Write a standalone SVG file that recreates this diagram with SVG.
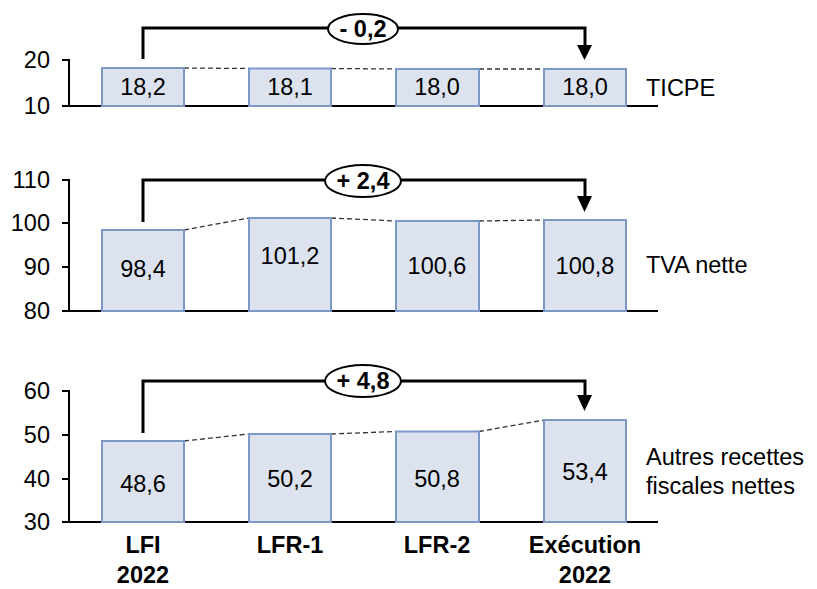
<svg xmlns="http://www.w3.org/2000/svg" width="817" height="589" viewBox="0 0 817 589">
<defs>
<style>
text{font-family:"Liberation Sans",Arial,sans-serif;font-size:23.5px;fill:#000}
.tl{text-anchor:end}
.c{text-anchor:middle}
.b{font-weight:bold}
.bar{fill:#dce3ee;stroke:#7b98c6;stroke-width:2}
.ax{stroke:#000;stroke-width:2;fill:none}
.dash{stroke:#333;stroke-width:1.3;stroke-dasharray:5,3;fill:none}
.br{stroke:#000;stroke-width:3;fill:none}
.ell{fill:#fff;stroke:#000;stroke-width:2}
</style>
</defs>

<g id="axes">
<path class="ax" d="M62,60 H69 V106 M62,106 H658"/>
<text class="tl" x="50" y="68">20</text>
<text class="tl" x="50" y="114">10</text>
<path class="ax" d="M62,180 H69 V311 M62,223 H69 M62,267 H69 M62,311 H658"/>
<text class="tl" x="50" y="188">110</text>
<text class="tl" x="50" y="231">100</text>
<text class="tl" x="50" y="275">90</text>
<text class="tl" x="50" y="319">80</text>
<path class="ax" d="M62,391 H69 V522 M62,435 H69 M62,479 H69 M62,522 H658"/>
<text class="tl" x="50" y="399">60</text>
<text class="tl" x="50" y="443">50</text>
<text class="tl" x="50" y="487">40</text>
<text class="tl" x="50" y="530">30</text>
</g>

<g id="connectors">
<path class="dash" d="M184,68 L249,68.5 M331,68.5 L396,69 M479,69 L544,69"/>
<path class="dash" d="M184,230 L249,218 M331,218 L396,221 M479,221 L544,220"/>
<path class="dash" d="M184,441 L249,434 M331,434 L396,431.5 M479,431.5 L544,420"/>
<path class="br" d="M143,59 V28 H585 V46"/>
<path d="M577,45 H592 L584.5,60 Z" fill="#000"/>
<path class="br" d="M143,222 V180 H585 V197"/>
<path d="M577,196 H592 L584.5,212 Z" fill="#000"/>
<path class="br" d="M143,433 V381 H585 V396"/>
<path d="M577,395 H592 L584.5,411 Z" fill="#000"/>
</g>

<g id="ticpe">
<rect class="bar" x="102" y="68" width="82" height="38"/>
<rect class="bar" x="249" y="68.5" width="82" height="37.5"/>
<rect class="bar" x="396" y="69" width="83" height="37"/>
<rect class="bar" x="544" y="69" width="82" height="37"/>
<text class="c" x="143" y="95">18,2</text>
<text class="c" x="290" y="95">18,1</text>
<text class="c" x="437" y="95">18,0</text>
<text class="c" x="585" y="95">18,0</text>
<text x="646" y="96">TICPE</text>
<g id="delta-ticpe"><ellipse class="ell" cx="363" cy="29" rx="35" ry="15"/><text class="c b" x="363" y="37">- 0,2</text></g>
</g>

<g id="tva">
<rect class="bar" x="102" y="230" width="82" height="81"/>
<rect class="bar" x="249" y="218" width="82" height="93"/>
<rect class="bar" x="396" y="221" width="83" height="90"/>
<rect class="bar" x="544" y="220" width="82" height="91"/>
<text class="c" x="143" y="277">98,4</text>
<text class="c" x="290" y="264">101,2</text>
<text class="c" x="437" y="274">100,6</text>
<text class="c" x="585" y="274">100,8</text>
<text x="646" y="273">TVA nette</text>
<g id="delta-tva"><ellipse class="ell" cx="363" cy="181" rx="38" ry="16"/><text class="c b" x="363" y="189">+ 2,4</text></g>
</g>

<g id="autres">
<rect class="bar" x="102" y="441" width="82" height="81"/>
<rect class="bar" x="249" y="434" width="82" height="88"/>
<rect class="bar" x="396" y="431.5" width="83" height="90.5"/>
<rect class="bar" x="544" y="420" width="82" height="102"/>
<text class="c" x="143" y="492">48,6</text>
<text class="c" x="290" y="487">50,2</text>
<text class="c" x="437" y="487">50,8</text>
<text class="c" x="585" y="480">53,4</text>
<text x="646" y="465">Autres recettes</text>
<text x="646" y="494">fiscales nettes</text>
<g id="delta-autres"><ellipse class="ell" cx="363" cy="381" rx="38" ry="16"/><text class="c b" x="363" y="389">+ 4,8</text></g>
</g>

<g id="categories">
<text class="c b" x="143" y="553">LFI</text>
<text class="c b" x="143" y="583">2022</text>
<text class="c b" x="290" y="553">LFR-1</text>
<text class="c b" x="437" y="553">LFR-2</text>
<text class="c b" x="585" y="553">Exécution</text>
<text class="c b" x="585" y="583">2022</text>
</g>
</svg>
